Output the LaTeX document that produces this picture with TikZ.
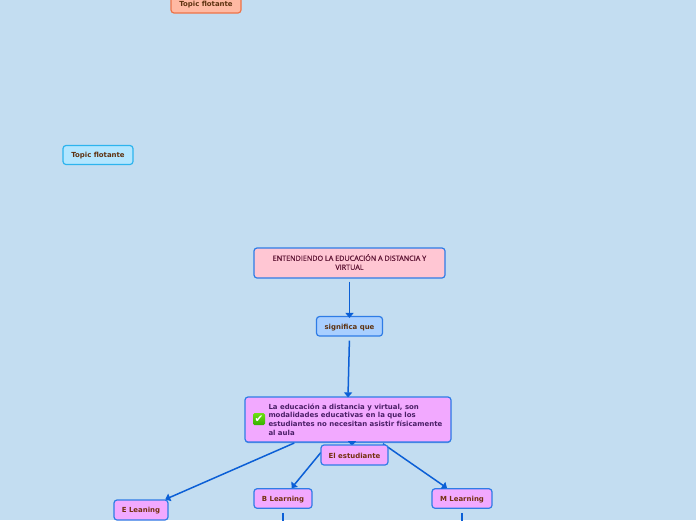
\documentclass[tikz,border=0pt]{standalone}
\usepackage{fontspec}
\setmainfont{DejaVu Sans}
\newfontfamily\titlefont{Open Sans}
\usetikzlibrary{arrows.meta,shadows}
\definecolor{bgc}{HTML}{C3DDF1}
\definecolor{edgec}{HTML}{0B5FD6}
\definecolor{bordc}{HTML}{2F7CE6}
\definecolor{pinkc}{HTML}{FFC6D3}
\definecolor{bluec}{HTML}{A9CFFF}
\definecolor{lilac}{HTML}{F2A9FF}
\definecolor{brownc}{HTML}{5E3210}
\definecolor{redbrown}{HTML}{74300F}
\definecolor{purplec}{HTML}{4A1E66}
\definecolor{titlec}{HTML}{5E1434}
\definecolor{orangef}{HTML}{FFB9A3}
\definecolor{oranged}{HTML}{EE7348}
\definecolor{cyanf}{HTML}{B3E6FF}
\definecolor{cyand}{HTML}{2DB4EE}
\definecolor{checktop}{HTML}{6FE015}
\definecolor{checkbot}{HTML}{35B000}
\newcommand{\lowered}[1]{\raisebox{0pt}[\dimexpr\height+1.8pt\relax][\depth]{#1}}
\newcommand{\upped}[1]{\raisebox{0pt}[\height][\dimexpr\depth+2pt\relax]{#1}}
\tikzset{
  x=1pt,y=-1pt,
  topic/.style={draw=bordc,line width=1.2pt,rounded corners=3pt,inner sep=0pt,align=center,
    font=\fontsize{6.95}{8.6}\selectfont\bfseries,text=redbrown},
  link/.style={draw=edgec,line width=1.5pt,-{Triangle[width=8pt,length=5pt]}},
  stub/.style={draw=edgec,line width=1.5pt},
}
\begin{document}
\begin{tikzpicture}
\useasboundingbox (0,0) rectangle (696,520);
\clip (0,0) rectangle (696,520);
\fill[bgc] (0,0) rectangle (696,520);
\node[topic,draw=oranged,fill=orangef,text=brownc,minimum width=70pt,minimum height=19pt] (orange) at (206,3.5) {\lowered{Topic flotante}};
\node[topic,draw=cyand,fill=cyanf,text=brownc,minimum width=70pt,minimum height=19pt] (cyan) at (98,155) {\lowered{Topic flotante}};
\node[topic,fill=pinkc,text=titlec,minimum width=191pt,minimum height=30pt,
  font=\titlefont\fontsize{7.2}{9}\selectfont\addfontfeatures{FakeBold=0.6}] (title) at (349.5,263) {\upped{\parbox{185pt}{\centering ENTENDIENDO LA EDUCACIÓN A DISTANCIA Y\\VIRTUAL}}};
\node[topic,fill=bluec,text=brownc,minimum width=66pt,minimum height=19.5pt] (sig) at (349.5,326.3) {\lowered{significa que}};
\node[topic,fill=lilac,text=purplec,minimum width=206pt,minimum height=45pt,
  drop shadow={shadow xshift=0pt,shadow yshift=-1pt,fill=edgec,opacity=.6}] (main) at (348,419.5)
  {\hspace{20pt}\parbox{179pt}{\raggedright La educación a distancia y virtual, son\\modalidades educativas en la que los\\estudiantes no necesitan asistir físicamente\\al aula}};
\node[topic,fill=lilac,minimum width=54pt,minimum height=20pt] (eln) at (141,510) {\lowered{E Leaning}};
\node[topic,fill=lilac,minimum width=58pt,minimum height=19.5pt] (bln) at (283,498.5) {\lowered{B Learning}};
\node[topic,fill=lilac,minimum width=60pt,minimum height=19.5pt] (mln) at (462,498.5) {\lowered{M Learning}};
\coordinate (bend) at (283,530);
\coordinate (mend) at (462,530);
\draw[link,shorten <=3pt,shorten >=-2pt] (title) -- (sig);
\draw[link,shorten <=4pt,shorten >=-1pt] (sig.south) -- (main.north);
\draw[link,shorten <=1pt,shorten >=0pt] (main) -- (eln);
\draw[link,shorten <=13pt,shorten >=0pt] (main) -- (bln);
\draw[link,shorten <=2pt,shorten >=0pt] (main) -- (mln);
\draw[link,shorten <=-4pt,shorten >=-1pt] (main.south -| 352,0) -- (352,445);
\node[topic,fill=lilac,minimum width=67pt,minimum height=20pt] (est) at (354.5,455) {\lowered{El estudiante}};
\draw[stub,shorten <=4pt] (bln.south) -- (bend);
\draw[stub,shorten <=4pt] (mln.south) -- (mend);
\node[draw=none,rounded corners=1.5pt,inner sep=0pt,minimum size=12pt,top color=checktop,bottom color=checkbot,
  text=white,font=\fontsize{10.5}{10.5}\selectfont] (check) at (259,419) {✔};
\end{tikzpicture}
\end{document}
